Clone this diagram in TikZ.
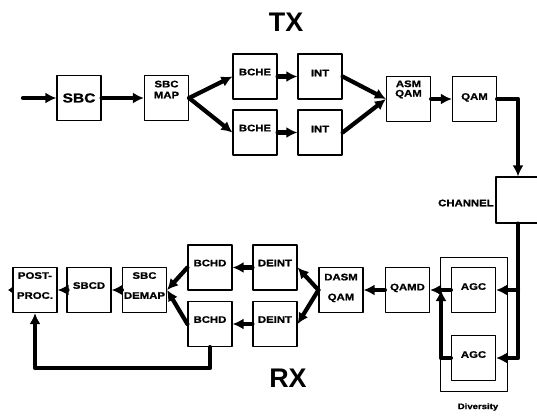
\documentclass[tikz,border=0pt]{standalone}
\usepackage{fontspec}
\setmainfont{Liberation Sans}
\newfontfamily\blkfont{Liberation Sans}[FakeStretch=1.2,BoldFeatures={FakeBold=1.2}]
\usetikzlibrary{arrows.meta}

\tikzset{
  blk/.style={draw,line width=1.2bp,minimum width=44bp,minimum height=45bp,inner sep=0pt,
    align=center,font=\blkfont\bfseries\fontsize{9.5}{11}\selectfont},
  flow/.style={line width=4.2bp,->},
  title/.style={font=\bfseries\fontsize{27}{27}\selectfont},
}

\begin{document}
\begin{tikzpicture}[x=1bp,y=-1bp,>={Latex[length=11bp,width=11bp]},line join=round,line cap=round]
\useasboundingbox (0,0) rectangle (537,417);

\node[title] (tx) at (286,22) {TX};
\node[title] (rx) at (288,378) {RX};

% transmitter
\coordinate (in) at (23,98);
\node[blk,font=\blkfont\bfseries\fontsize{13}{13}\selectfont] (sbc) at (79,98) {SBC};
\node[blk,text depth=17bp] (map) at (166.5,98) {SBC\\MAP};
\node[blk,text depth=9bp] (bche1) at (255,76.5) {BCHE};
\node[blk,text depth=9bp] (bche2) at (255,132.5) {BCHE};
\node[blk,text depth=7bp] (int1) at (320,76.5) {INT};
\node[blk,text depth=7bp] (int2) at (320,132.5) {INT};
\node[blk,text depth=21bp] (asm) at (408.5,99) {ASM\\[-1.5bp]QAM};
\node[blk,text depth=5bp] (qam) at (474.5,99) {QAM};
\node[blk,minimum width=44bp,minimum height=46bp] (channel) at (518,200) {};
\node[anchor=east,inner sep=1.5bp,font=\blkfont\bfseries\fontsize{9.5}{11}\selectfont] (chlbl) at ([yshift=-3bp]channel.west) {CHANNEL};

\draw[flow] (in) -- (sbc);
\draw[flow] (sbc) -- (map);
\draw[flow] (map.east) -- (bche1.west);
\draw[flow] (map.east) -- (bche2.west);
\draw[flow] (bche1) -- (int1);
\draw[flow] (bche2) -- (int2);
\draw[flow] (int1.east) -- (asm.west);
\draw[flow] (int2.east) -- (asm.west);
\draw[flow] (asm) -- (qam);
\draw[flow] (qam.east) -| (channel.north);

% receiver
\node[draw,line width=1bp,minimum width=67bp,minimum height=134bp] (div) at (474,324) {};
\node[font=\blkfont\bfseries\fontsize{8}{9}\selectfont] (divlbl) at (478,407) {Diversity};
\node[blk,text depth=7bp] (agc1) at (473.5,290) {AGC};
\node[blk,text depth=7bp] (agc2) at (473.5,358) {AGC};
\node[blk,text depth=6bp] (qamd) at (407.5,290) {QAMD};
\node[blk,text depth=6bp] (dasm) at (341,290) {DASM\\[9bp]QAM};
\node[blk,text depth=9bp] (deint1) at (275,267.5) {DEINT};
\node[blk,text depth=9bp] (deint2) at (275,324) {DEINT};
\node[blk,text depth=9bp] (bchd1) at (210,267.5) {BCHD};
\node[blk,text depth=9bp] (bchd2) at (210,324) {BCHD};
\node[blk,text depth=9bp] (demap) at (144.5,290) {SBC\\[9bp]DEMAP};
\node[blk,text depth=9bp] (sbcd) at (89,290) {SBCD};
\node[blk,text depth=9bp] (post) at (35,290) {POST-\\[9bp]PROC.};
\coordinate (mrg) at (441,290);
\coordinate (out) at (8,290);

\draw[flow] (channel.south) |- (agc2.east);
\draw[flow] (channel.south |- agc1.east) -- (agc1.east);
\draw[flow] (agc2.west) -| (mrg);
\draw[flow] (agc1) -- (qamd);
\draw[flow] (qamd) -- (dasm);
\draw[flow] (dasm.west) -- (deint1.east);
\draw[flow] (dasm.west) -- (deint2.east);
\draw[flow] (deint1) -- (bchd1);
\draw[flow] (deint2) -- (bchd2);
\draw[flow] (bchd1.west) -- (demap.east);
\draw[flow] (bchd2.west) -- (demap.east);
\draw[flow] (demap) -- (sbcd);
\draw[flow] (sbcd) -- (post);
\draw[flow] (bchd2.south) -- ++(0,21) -| (post.south);
\draw[line width=1bp,-{Latex[length=4bp,width=6bp]}] (post.west) -- (out);
\end{tikzpicture}
\end{document}
